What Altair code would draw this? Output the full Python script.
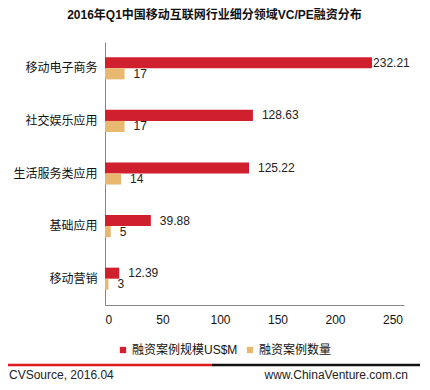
import altair as alt
import pandas as pd

categories = ["移动电子商务", "社交娱乐应用", "生活服务类应用", "基础应用", "移动营销"]
amount = [232.21, 128.63, 125.22, 39.88, 12.39]
count = [17, 17, 14, 5, 3]
series = ["融资案例规模US$M", "融资案例数量"]
colors = ["#D0202E", "#E8B870"]
x_ticks = [0, 50, 100, 150, 200, 250]
title = "2016年Q1中国移动互联网行业细分领域VC/PE融资分布"
source = "CVSource, 2016.04"
site = "www.ChinaVenture.com.cn"

rows = []
for c, a, n in zip(categories, amount, count):
    rows.append({"cat": c, "series": series[0], "value": a, "label": f"{a:.2f}"})
    rows.append({"cat": c, "series": series[1], "value": n, "label": str(n)})
df = pd.DataFrame(rows)

FONT = "Liberation Sans, Noto Sans CJK SC"
W, H = 299, 263

y = alt.Y("cat:N", sort=categories, title=None,
          scale=alt.Scale(paddingInner=0.58, paddingOuter=0.29),
          axis=alt.Axis(domainColor="#888", ticks=False, labelFontSize=12,
                        labelColor="#111", labelPadding=8, labelFont=FONT))
x = alt.X("value:Q", title=None, scale=alt.Scale(domain=[0, 250]),
          axis=alt.Axis(values=x_ticks, grid=False, ticks=False, domainColor="#888",
                        labelFontSize=12, labelPadding=9, labelColor="#111", labelFont=FONT))
yoff = alt.YOffset("series:N", sort=series, scale=alt.Scale(paddingInner=0, paddingOuter=0))

base = alt.Chart(df)
bars = base.mark_bar().encode(
    x=x, y=y, yOffset=yoff,
    color=alt.Color("series:N", sort=series,
                    scale=alt.Scale(domain=series, range=colors),
                    legend=alt.Legend(title=None, orient="none", legendX=12, legendY=302,
                                      direction="horizontal", symbolType="square",
                                      symbolSize=40, symbolStrokeWidth=0,
                                      labelFontSize=12, labelFont=FONT, labelColor="#111",
                                      columnPadding=6, labelOffset=3)),
)
labels_far = base.transform_filter("datum.value > 200").mark_text(
    align="left", dx=1, fontSize=12, font=FONT, color="#222"
).encode(x="value:Q", y=alt.Y("cat:N", sort=categories), yOffset=yoff, text="label:N")
labels = base.transform_filter("datum.value <= 200").mark_text(
    align="left", dx=9, fontSize=12, font=FONT, color="#222"
).encode(x="value:Q", y=alt.Y("cat:N", sort=categories), yOffset=yoff, text="label:N")

one = pd.DataFrame({"a": [0]})
red_rule = alt.Chart(one).mark_rule(color="#E0191F", strokeWidth=2.5).encode(
    x=alt.value(-97), x2=alt.value(107), y=alt.value(323))
black_rule = alt.Chart(one).mark_rule(color="#111", strokeWidth=2.5).encode(
    x=alt.value(107), x2=alt.value(315), y=alt.value(323))
src_text = alt.Chart(one).mark_text(align="left", baseline="middle", fontSize=12,
                                    font=FONT, color="#222").encode(
    x=alt.value(-96), y=alt.value(333), text=alt.value(source))
site_text = alt.Chart(one).mark_text(align="right", baseline="middle", fontSize=12,
                                     font=FONT, color="#222").encode(
    x=alt.value(303), y=alt.value(333), text=alt.value(site))

chart = alt.layer(bars, labels, labels_far, red_rule, black_rule, src_text, site_text).properties(
    width=W, height=H,
    autosize=alt.AutoSizeParams(type="none"),
    padding={"left": 97, "top": 34, "right": 18, "bottom": 77},
    title=alt.TitleParams(title, fontSize=12, fontWeight="bold", font=FONT, color="#111",
                          anchor="middle", dx=-40, offset=20),
).configure_view(strokeWidth=0)

chart.save("out.html", embed_options={"renderer": "svg", "actions": False})
